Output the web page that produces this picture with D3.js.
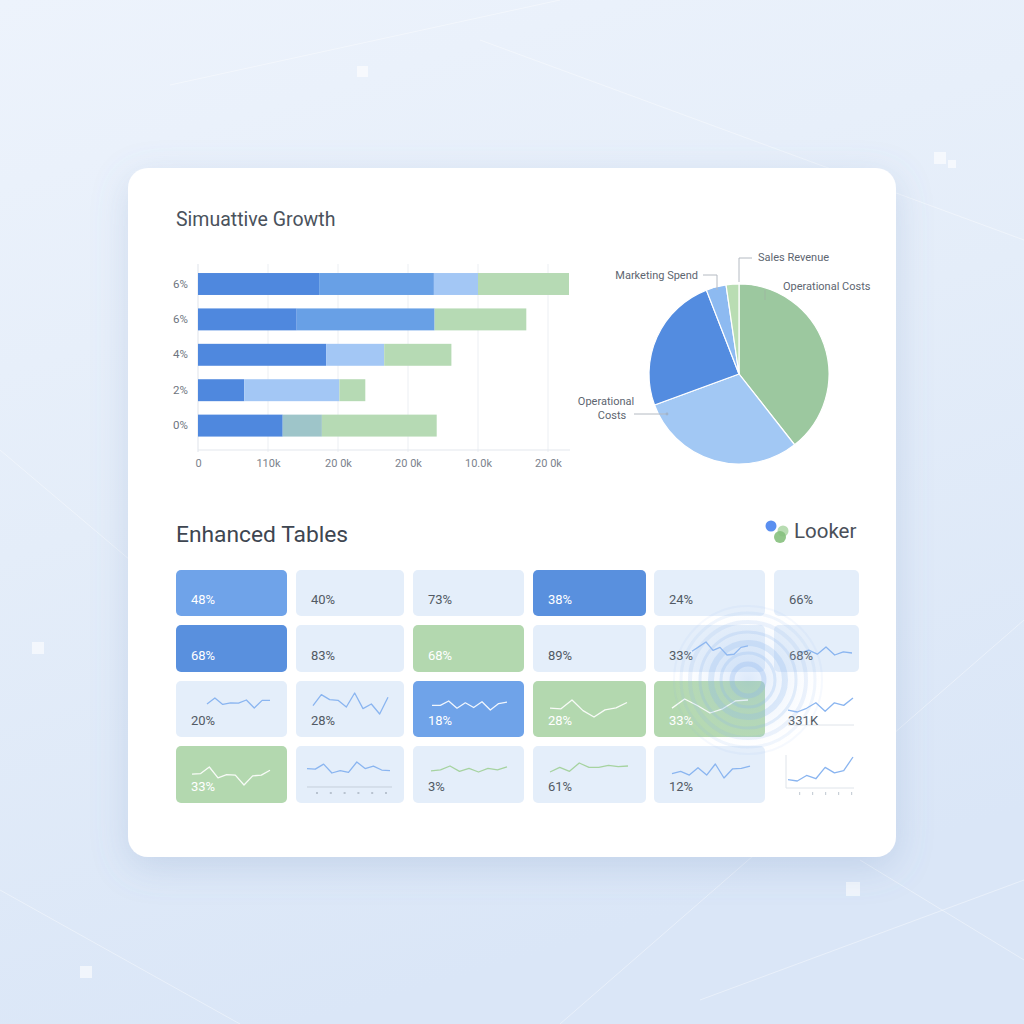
<!DOCTYPE html>
<html><head><meta charset="utf-8">
<script src="https://cdn.jsdelivr.net/npm/d3@7"></script>
<style>
html,body{margin:0;padding:0;background:#e6eefa;}
svg{display:block;font-family:Roboto,"Open Sans",sans-serif;}
</style></head>
<body>
<svg id="c" width="1024" height="1024"></svg>
<script>
// ---------- DATA ----------
const barCategories = ["6%","6%","4%","2%","0%"];
const seriesDark  = [17.3,14.1,18.3,6.6,12.1];
const seriesMid   = [16.4,19.7,0,0,0];
const seriesLight = [6.3,0,8.3,13.6,0];
const seriesTeal  = [0,0,0,0,5.6];
const seriesGreen = [13.0,13.1,9.6,3.7,16.4];
const xTickValues = [0,10,20,30,40,50];
const xTickLabels = ["0","110k","20 0k","20 0k","10.0k","20 0k"];

const pieNames  = ["Operational Costs","Operational Costs","Product Costs","Marketing Spend","Sales Revenue"];
const pieValues = [39.4,30.0,24.7,3.6,2.3];

const cellLabels = [
  ["48%","40%","73%","38%","24%","66%"],
  ["68%","83%","68%","89%","33%","68%"],
  ["20%","28%","18%","28%","33%","331K"],
  ["33%","","3%","61%","12%",""]
];
const cellTones = [
  ["blue","light","light","dark","light","light"],
  ["dark","light","green","light","light","light"],
  ["light","light","blue","green","green","none"],
  ["green","light","light","light","light","none"]
];
const sparkData = [
  [null,null,null,null,null,null],
  [null,null,null,null,[18,30,42,20,28,8,10,28,32],[15,22,12,30,10,18,15]],
  [[13,28,12,16,15,23,3,22,22],[27,60,45,43,23,65,18,32,2,52],[18,18,30,10,25,12,28,5,23,27],[32,30,55,25,7,27,33,48],[30,58,38,15,28,52,55],[15,10,20,35,12,35,28,48]],
  [[43,45,65,32,42,40,10,38,40,55],[20,18,35,5,13,7,42,20,28,15,13],[12,15,28,10,20,8,20,15,25],[8,22,10,35,22,22,28,24,26],[24,30,20,40,20,50,12,37,38,44],[22,18,35,25,60,43,50,92]]
];
const sparkTone = [
  [null,null,null,null,null,null],
  [null,null,null,null,"blue","blue"],
  ["blue","blue","white","white","white","blue"],
  ["white","blue","green","green","blue","blue"]
];

// ---------- LAYOUT ----------
const colX = [176,296,413,533,654,774];
const colW = [111,108,111,113,111,85];
const rowY = [570,625,681,746];
const rowH = [46,47,56,57];
const textDY = [34,35,44,45];
// spark boxes relative to cell: [x0,x1,y0,y1]
const sparkBox = [
  [null,null,null,null,null,null],
  [null,null,null,null,[38,94,17,30],[26,78,22,30]],
  [[31,94,17,27],[17,92,12,33],[19,94,20,29],[17,94,19,36],[18,94,18,32],[14,79,17,31]],
  [[16,94,21,39],[11,94,16,27],[18,94,20,26],[17,95,17,26],[18,96,18,32],[14,79,11,35]]
];

const svg = d3.select("#c");
const defs = svg.append("defs");

// background
const bg = defs.append("linearGradient").attr("id","bg").attr("x1",0).attr("y1",0).attr("x2",0.3).attr("y2",1);
bg.append("stop").attr("offset","0%").attr("stop-color","#edf3fc");
bg.append("stop").attr("offset","50%").attr("stop-color","#e4edf9");
bg.append("stop").attr("offset","100%").attr("stop-color","#dae6f7");
svg.append("rect").attr("width",1024).attr("height",1024).attr("fill","url(#bg)");
const deco = svg.append("g").attr("stroke","#ffffff").attr("stroke-opacity",0.4).attr("fill","none");
[[170,85,560,0],[0,450,130,560],[480,40,1024,240],[560,1024,1024,620],[0,890,240,1024],[860,860,1024,960],[700,1000,1024,880]].forEach(l=>{
  deco.append("line").attr("x1",l[0]).attr("y1",l[1]).attr("x2",l[2]).attr("y2",l[3]);
});
const sq = svg.append("g").attr("fill","#ffffff").attr("fill-opacity",0.6);
[[357,66,11],[934,152,12],[846,882,14],[80,966,12],[32,642,12],[948,160,8]].forEach(s=>{
  sq.append("rect").attr("x",s[0]).attr("y",s[1]).attr("width",s[2]).attr("height",s[2]);
});

// card
const sh = defs.append("filter").attr("id","sh").attr("x","-20%").attr("y","-20%").attr("width","140%").attr("height","140%");
sh.append("feDropShadow").attr("dx",0).attr("dy",10).attr("stdDeviation",18).attr("flood-color","#6c8bb8").attr("flood-opacity",0.22);
svg.append("rect").attr("x",128).attr("y",168).attr("width",768).attr("height",689).attr("rx",20)
  .attr("fill","#ffffff").attr("filter","url(#sh)");

// title
svg.append("text").attr("x",176).attr("y",226).attr("font-size",19.5).attr("fill","#4a525c").text("Simuattive Growth");

// ---------- BAR CHART ----------
const x = d3.scaleLinear().domain([0,50]).range([198,548]);
const y = d3.scaleBand().domain(d3.range(barCategories.length)).range([266.3,443.3]).paddingInner(0.38).paddingOuter(0.19);

const grid = svg.append("g");
xTickValues.forEach(v=>{
  grid.append("line").attr("x1",x(v)).attr("x2",x(v)).attr("y1",264).attr("y2",452)
    .attr("stroke", v===0 ? "#dfe3ea" : "#eceff3").attr("stroke-width",1);
});
grid.append("line").attr("x1",198).attr("x2",570).attr("y1",450).attr("y2",450).attr("stroke","#e3e7ed");

const xAxis = d3.axisBottom(x).tickValues(xTickValues).tickFormat((d,i)=>xTickLabels[i]).tickSize(0).tickPadding(0);
const gx = svg.append("g").attr("transform","translate(0,467)").call(xAxis);
gx.select(".domain").remove();
gx.selectAll("text").attr("font-size",11).attr("fill","#7b828c").attr("font-family","Roboto,sans-serif").attr("dy","0");

const yAxis = d3.axisLeft(y).tickFormat(i=>barCategories[i]).tickSize(0).tickPadding(0);
const gy = svg.append("g").attr("transform","translate(188,0)").call(yAxis);
gy.select(".domain").remove();
gy.selectAll("text").attr("font-size",11.5).attr("fill","#6e7580").attr("font-family","Roboto,sans-serif");

const barKeys = ["dark","mid","light","teal","green"];
const barColors = {dark:"#4f88de",mid:"#68a0e6",light:"#a3c7f5",teal:"#9ec5c9",green:"#b6dab4"};
const barRows = barCategories.map((c,i)=>({i,dark:seriesDark[i],mid:seriesMid[i],light:seriesLight[i],teal:seriesTeal[i],green:seriesGreen[i]}));
const stacked = d3.stack().keys(barKeys)(barRows);
const barG = svg.append("g");
stacked.forEach(layer=>{
  barG.selectAll(null).data(layer.filter(d=>d[1]-d[0]>0)).enter().append("rect")
    .attr("x",d=>x(d[0])).attr("width",d=>x(d[1])-x(d[0]))
    .attr("y",d=>y(d.data.i)).attr("height",y.bandwidth())
    .attr("fill",barColors[layer.key]);
});

// ---------- PIE ----------
const pcx = 739, pcy = 374, pr = 90;
const pieColors = ["#9cc89f","#a2c8f4","#538ce0","#8dbaf1","#b9ddb3"];
const pie = d3.pie().sort(null)(pieValues);
const arc = d3.arc().innerRadius(0).outerRadius(pr);
const pg = svg.append("g").attr("transform",`translate(${pcx},${pcy})`);
pg.selectAll("path").data(pie).enter().append("path").attr("d",arc)
  .attr("fill",(d,i)=>pieColors[i]).attr("stroke","#ffffff").attr("stroke-width",1.2);

const lab = svg.append("g").attr("font-size",11).attr("fill","#5d6570").attr("font-family","Roboto,sans-serif");
const lead = svg.append("g").attr("stroke","#b4bac2").attr("fill","none").attr("stroke-width",1);
// Sales Revenue
lead.append("path").attr("d",`M${pcx},${pcy-pr-2}V258H752`);
lab.append("text").attr("x",758).attr("y",261).text(pieNames[4]);
// Marketing Spend
lead.append("path").attr("d","M703,275H717V290");
lab.append("text").attr("x",698).attr("y",279).attr("text-anchor","end").text(pieNames[3]);
// Operational Costs right
lead.append("path").attr("d","M765,290V300").attr("stroke","#9db8a0");
lab.append("text").attr("x",783).attr("y",290).text(pieNames[0]);
// Operational Costs left
lead.append("path").attr("d","M634,414H666");
svg.append("circle").attr("cx",667).attr("cy",414).attr("r",1.4).attr("fill","#9fb3cc");
lab.append("text").attr("x",606).attr("y",405).attr("text-anchor","middle").text("Operational");
lab.append("text").attr("x",612).attr("y",419).attr("text-anchor","middle").text("Costs");

// ---------- TABLES ----------
svg.append("text").attr("x",176).attr("y",542).attr("font-size",22.8).attr("fill","#3e4651").text("Enhanced Tables");
// Looker logo
svg.append("circle").attr("cx",771).attr("cy",526).attr("r",5.5).attr("fill","#5a8ff0");
svg.append("circle").attr("cx",783).attr("cy",531).attr("r",5.5).attr("fill","#b8dcb2");
svg.append("circle").attr("cx",780).attr("cy",537).attr("r",6).attr("fill","#86c07d").attr("fill-opacity",0.9);
svg.append("text").attr("x",794).attr("y",538).attr("font-size",20.5).attr("fill","#4a5059").text("Looker");

const toneFill = {light:"#e4eefa",blue:"#6fa3e9",dark:"#5990de",green:"#b3d8af",none:"none"};
const sparkColor = {blue:"#8ab5f0",white:"#ffffff",green:"#a6d3a0"};
const tg = svg.append("g");
cellLabels.forEach((row,r)=>{
  row.forEach((label,c)=>{
    const cx = colX[c], cy = rowY[r], tone = cellTones[r][c];
    if(tone!=="none"){
      tg.append("rect").attr("x",cx).attr("y",cy).attr("width",colW[c]).attr("height",rowH[r]).attr("rx",5)
        .attr("fill",toneFill[tone]);
    }
    const data = sparkData[r][c];
    if(data){
      const b = sparkBox[r][c];
      const sx = d3.scaleLinear().domain([0,data.length-1]).range([cx+b[0],cx+b[1]]);
      const sy = d3.scaleLinear().domain(d3.extent(data)).range([cy+b[3],cy+b[2]]);
      const line = d3.line().x((d,i)=>sx(i)).y(d=>sy(d));
      const col = sparkColor[sparkTone[r][c]];
      if(tone==="none" && r===3){
        tg.append("path").attr("d",`M${cx+12},${cy+9}V${cy+42}H${cx+80}`).attr("stroke","#dfe4ea").attr("fill","none");
        [1,2,3,4,5].forEach(k=>tg.append("rect").attr("x",cx+12+k*13).attr("y",cy+46).attr("width",1.2).attr("height",3).attr("fill","#c9d0d8"));
      }
      if(tone==="none" && r===2){
        tg.append("line").attr("x1",cx+14).attr("x2",cx+80).attr("y1",cy+44).attr("y2",cy+44).attr("stroke","#dfe4ea");
      }
      if(r===3 && c===1){
        tg.append("line").attr("x1",cx+11).attr("x2",cx+96).attr("y1",cy+41).attr("y2",cy+41).attr("stroke","#c5cfdb");
        [0,1,2,3,4,5].forEach(k=>tg.append("rect").attr("x",cx+20+k*13.8).attr("y",cy+46).attr("width",2).attr("height",2).attr("fill","#b8c3d0"));
      }
      tg.append("path").attr("d",line(data)).attr("fill","none").attr("stroke",col)
        .attr("stroke-width",1.3).attr("stroke-opacity",sparkTone[r][c]==="white"?0.9:1).attr("stroke-linejoin","round");
    }
    if(label){
      const white = tone==="blue"||tone==="dark"||tone==="green";
      tg.append("text").attr("x",cx+(tone==="none"?14:15)).attr("y",cy+textDY[r]).attr("font-size",13)
        .attr("fill",white?"#ffffff":"#525a64").text(label);
    }
  });
});

// ripple effect
const rg = defs.append("radialGradient").attr("id","rip");
rg.append("stop").attr("offset","0%").attr("stop-color","#8fb8f0").attr("stop-opacity",0.3);
rg.append("stop").attr("offset","60%").attr("stop-color","#b8d2f5").attr("stop-opacity",0.12);
rg.append("stop").attr("offset","100%").attr("stop-color","#ffffff").attr("stop-opacity",0);
const rip = svg.append("g").attr("transform","translate(748,680)");
rip.append("circle").attr("r",76).attr("fill","url(#rip)");
[[16,5,0.3],[27,3,0.25],[37,6,0.25],[48,3,0.22],[58,4,0.16],[67,3,0.12],[74,2,0.08]].forEach(c=>{
  rip.append("circle").attr("r",c[0]).attr("fill","none").attr("stroke","#8db6ee").attr("stroke-width",c[1]).attr("stroke-opacity",c[2]);
});
</script>
</body></html>
